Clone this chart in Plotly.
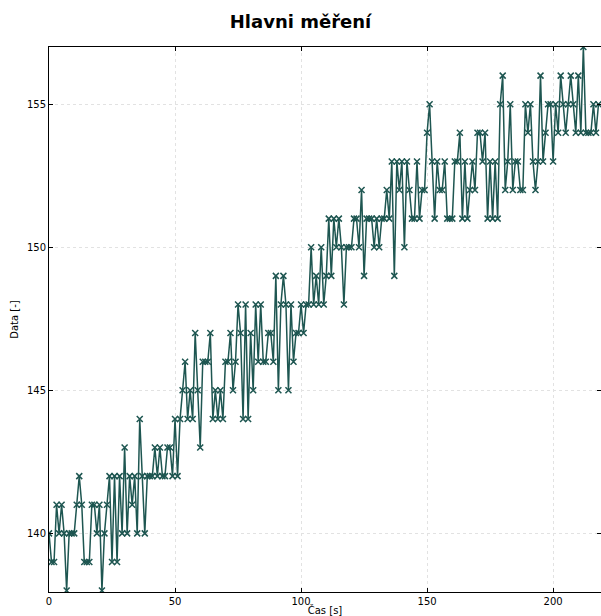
import plotly.graph_objects as go

# Measured samples, one per second
cas = list(range(219))
data = [
    140, 139, 139, 141, 140, 141, 140, 138, 140, 140,
    140, 141, 142, 141, 139, 139, 139, 141, 141, 140,
    141, 138, 140, 141, 142, 139, 142, 139, 142, 140,
    143, 140, 142, 141, 142, 140, 144, 142, 140, 142,
    142, 142, 143, 142, 143, 142, 142, 143, 143, 142,
    144, 142, 144, 145, 146, 144, 145, 144, 147, 145,
    143, 146, 146, 146, 147, 144, 145, 144, 145, 144,
    146, 146, 147, 145, 146, 148, 147, 144, 148, 144,
    147, 145, 148, 146, 148, 146, 146, 147, 147, 146,
    149, 145, 148, 149, 148, 145, 148, 146, 147, 147,
    148, 147, 148, 148, 150, 148, 149, 148, 150, 148,
    149, 151, 149, 151, 150, 151, 150, 148, 150, 150,
    150, 151, 151, 150, 152, 149, 151, 151, 151, 150,
    151, 150, 151, 151, 152, 151, 153, 149, 153, 152,
    153, 150, 153, 152, 151, 151, 153, 151, 152, 152,
    154, 155, 153, 151, 153, 152, 152, 153, 151, 151,
    151, 153, 153, 154, 151, 153, 151, 152, 153, 152,
    154, 154, 153, 154, 151, 153, 151, 153, 151, 155,
    156, 152, 153, 155, 152, 153, 153, 152, 152, 155,
    154, 155, 153, 152, 153, 156, 153, 154, 155, 155,
    153, 155, 154, 156, 155, 154, 155, 156, 155, 154,
    156, 154, 157, 154, 154, 154, 155, 154, 155,
]

barva = "#1e5651"

fig = go.Figure(
    go.Scatter(
        x=cas,
        y=data,
        mode="lines+markers",
        line=dict(color=barva, width=1.5),
        marker=dict(symbol="x-thin-open", size=6, color=barva,
                    line=dict(color=barva, width=1.5)),
        cliponaxis=True,
        showlegend=False,
    )
)

osa = dict(
    showline=True, linecolor="black", linewidth=1, mirror="ticks",
    ticks="inside", ticklen=4, tickcolor="black",
    showgrid=True, gridcolor="#e2e2e2", griddash="dot", gridwidth=1,
    zeroline=False, tickfont=dict(size=10, color="black"),
)

fig.update_layout(
    width=601, height=616,
    margin=dict(l=49, r=0, t=47, b=24),
    paper_bgcolor="white", plot_bgcolor="white",
    font=dict(family="DejaVu Sans", color="black"),
    title=dict(text="<b>Hlavni měření</b>", x=0.5, xanchor="center",
               y=0.965, yanchor="middle", font=dict(size=18)),
    xaxis=dict(osa, range=[0, 219], tickvals=[0, 50, 100, 150, 200],
               title=dict(text="Čas [s]", font=dict(size=10), standoff=2)),
    yaxis=dict(osa, range=[137.95, 157.0], tickvals=[140, 145, 150, 155],
               title=dict(text="Data [-]", font=dict(size=10), standoff=6)),
)

fig.write_html("out.html")
